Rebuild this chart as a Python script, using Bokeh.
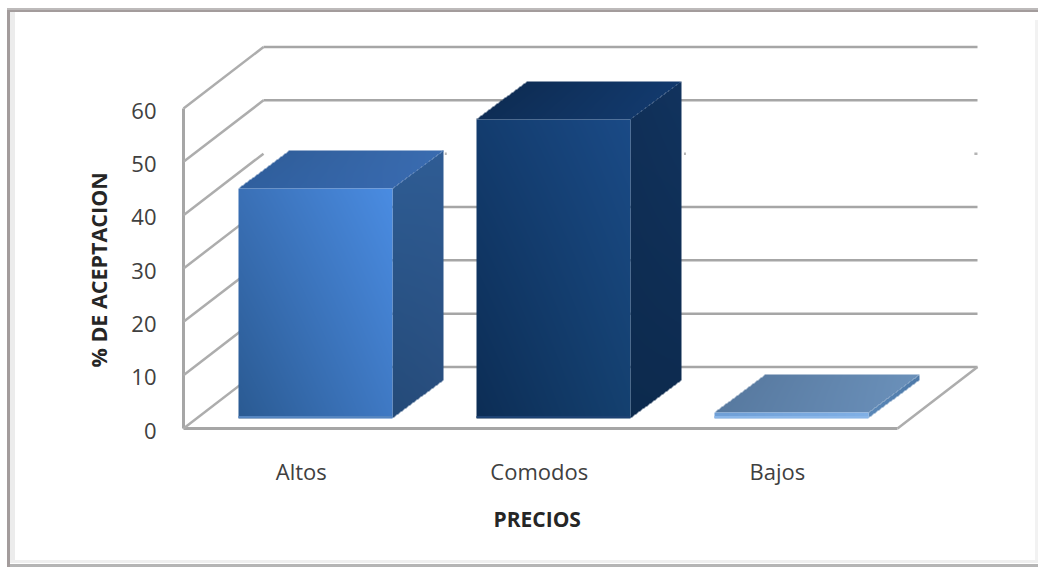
import numpy as np
from bokeh.embed import file_html
from bokeh.models import FixedTicker, Range1d, Title
from bokeh.plotting import figure
from bokeh.resources import INLINE

# Chart content
categories = ["Altos", "Comodos", "Bajos"]
values = [43.0, 56.0, 1.0]
y_ticks = [0, 10, 20, 30, 40, 50, 60]
x_title = "PRECIOS"
y_title = "% DE ACEPTACION"

# Per-bar shading: colours at bottom-left, bottom-right, top-right, top-left
front_colors = [
    ["#2a5a92", "#3f79c4", "#4a8ce2", "#3a70b6"],
    ["#0c2d55", "#14406f", "#1a4a86", "#133c6e"],
    ["#6f9fd6", "#80b0e6", "#80b0e6", "#6f9fd6"],
]
top_colors = [
    ["#2f5f9e", "#3768ad", "#3a6cb0", "#315f9c"],
    ["#0e2d55", "#12386a", "#123a6e", "#0e2d55"],
    ["#57799f", "#668bb5", "#6b91ba", "#5a7ca3"],
]
side_colors = [
    ["#244a78", "#294f80", "#2f5c94", "#2d5a90"],
    ["#0c2a4d", "#0d2b50", "#11335e", "#102f57"],
    ["#5b88b8", "#4d79a8", "#4d79a8", "#5b88b8"],
]
rim_colors = ["#5585c0", "#1d4273", "#8ab6e8"]

GRID = "#a6a6a6"
DIAGONAL = "#adadad"
TEXT = "#404040"

# Plot geometry: one category is 238 px wide, one value unit 5.333 px tall
PX_X = 1 / 238
PX_Y = 60 / 320
DEPTH_X = 80 * PX_X
DEPTH_Y = 61.5 * PX_Y
BAR_WIDTH = 154 * PX_X
BAR_GAP = 39 * PX_X
BAR_FLOOR_X = 16 * PX_X
BAR_FLOOR_Y = 10.5 * PX_Y
BAR_DEPTH_X = 51 * PX_X
BAR_DEPTH_Y = 38 * PX_Y
N_CATEGORIES = len(categories)
LABEL_DROP = 2 * PX_Y

# The chart object's frame sits behind the transparent canvas
frame_bands = [
    (7, 8, 1031, 2, "#bdbaba"),
    (7, 10, 1031, 2, "#a39c9c"),
    (7, 8, 3, 559, "#a39c9c"),
    (10, 12, 5, 548, "#ececec"),
    (7, 560, 1031, 3, "#efefef"),
    (7, 564, 1031, 3, "#b5b5b5"),
    (1035, 20, 3, 540, "#f2f2f2"),
]
frame_css = ", ".join(
    f"linear-gradient({c},{c}) {x}px {y}px / {w}px {h}px no-repeat"
    for x, y, w, h, c in frame_bands
)

p = figure(
    width=1038,
    height=567,
    x_range=Range1d(-2 * PX_X, 855 * PX_X),
    y_range=Range1d(-4 * PX_Y, 428 * PX_Y),
    min_border_left=181,
    min_border_right=0,
    min_border_top=0,
    min_border_bottom=135,
    output_backend="svg",
    toolbar_location=None,
    background_fill_color=None,
    border_fill_color=None,
    outline_line_color=None,
    styles={"background": frame_css + ", white"},
)
p.grid.visible = False


def hex_to_rgb(c):
    return np.array([int(c[i:i + 2], 16) for i in (1, 3, 5)], dtype=float)


def shaded_face(corners, colors):
    """Paint a parallelogram face, pixel by pixel, with a bilinear colour blend."""
    c = np.array(corners, dtype=float) / [PX_X, PX_Y]
    xmin, ymin = np.floor(c.min(axis=0))
    xmax, ymax = np.ceil(c.max(axis=0))
    nx, ny = int(xmax - xmin), int(ymax - ymin)
    gx, gy = np.meshgrid(xmin + np.arange(nx) + 0.5, ymin + np.arange(ny) + 0.5)
    # Face coordinates (u, v) of each pixel centre
    a, b = c[1] - c[0], c[3] - c[0]
    det = a[0] * b[1] - a[1] * b[0]
    rx, ry = gx - c[0, 0], gy - c[0, 1]
    u = (rx * b[1] - ry * b[0]) / det
    v = (a[0] * ry - a[1] * rx) / det
    inside = (u >= -0.001) & (u <= 1.001) & (v >= -0.001) & (v <= 1.001)
    u, v = u.clip(0, 1)[..., None], v.clip(0, 1)[..., None]
    col = [hex_to_rgb(k) for k in colors]
    rgb = col[0] * (1 - u) * (1 - v) + col[1] * u * (1 - v) + col[2] * u * v + col[3] * (1 - u) * v
    rgba = np.zeros((ny, nx, 4), dtype=np.uint8)
    rgba[..., :3] = rgb.round().astype(np.uint8)
    rgba[..., 3] = inside * 255
    img = rgba.view(dtype=np.uint32).reshape(ny, nx)
    p.image_rgba(image=[img], x=xmin * PX_X, y=ymin * PX_Y, dw=nx * PX_X, dh=ny * PX_Y)


# Axis lines
p.line([0, 0], [0, 60], line_color=GRID, line_width=3)
p.line([0, N_CATEGORIES], [0, 0], line_color=GRID, line_width=3)

# Side wall: slanted lines running from the axis back to the rear wall
for t in y_ticks:
    p.line([0, DEPTH_X], [t, t + DEPTH_Y], line_color=DIAGONAL, line_width=2.5)

# Rear wall gridlines; the 40 line only shows as small stubs around the bars
back_left = DEPTH_X
back_right = N_CATEGORIES + DEPTH_X
for t in y_ticks:
    if t != 40:
        p.line([back_left, back_right], [t + DEPTH_Y, t + DEPTH_Y], line_color=GRID, line_width=2.5)
for start, end in [(1.098, 1.106), (1.234, 1.242), (2.103, 2.111), (3.323, 3.336)]:
    p.line([start, end], [40 + DEPTH_Y, 40 + DEPTH_Y], line_color="#b4b4b4", line_width=2.5)

# Right edge of the floor
p.line([N_CATEGORIES, back_right], [0, DEPTH_Y], line_color=DIAGONAL, line_width=2.5)

# Bars: side and top faces first, the front face over them
for i, v in enumerate(values):
    x0 = i + BAR_GAP + BAR_FLOOR_X
    x1 = x0 + BAR_WIDTH
    y0 = BAR_FLOOR_Y
    y1 = v + BAR_FLOOR_Y
    dx, dy = BAR_DEPTH_X, BAR_DEPTH_Y
    shaded_face([(x1, y0), (x1 + dx, y0 + dy), (x1 + dx, y1 + dy), (x1, y1)], side_colors[i])
    shaded_face([(x0, y1), (x1, y1), (x1 + dx, y1 + dy), (x0 + dx, y1 + dy)], top_colors[i])
    shaded_face([(x0, y0), (x1, y0), (x1, y1), (x0, y1)], front_colors[i])
    p.line([x0, x1], [y0 + 0.2, y0 + 0.2], line_color=rim_colors[i], line_width=2)

# Axes: only their labels are drawn, the value labels a touch below their positions
p.xaxis.ticker = FixedTicker(ticks=[i + 0.495 for i in range(N_CATEGORIES)])
p.xaxis.major_label_overrides = {i + 0.495: c for i, c in enumerate(categories)}
p.xaxis.major_label_standoff = 23

label_ticks = [t - LABEL_DROP for t in y_ticks]
p.yaxis.ticker = FixedTicker(ticks=label_ticks)
p.yaxis.major_label_overrides = {lt: str(t) for lt, t in zip(label_ticks, y_ticks)}
p.yaxis.major_label_standoff = 25

for axis in (p.xaxis, p.yaxis):
    axis.axis_line_color = None
    axis.major_tick_line_color = None
    axis.minor_tick_line_color = None
    axis.major_tick_in = 0
    axis.major_tick_out = 0
    axis.major_label_text_font = "Open Sans"
    axis.major_label_text_font_size = "22px"
    axis.major_label_text_color = TEXT

# Axis titles, centred on the axes themselves rather than on the plot frame
title_style = dict(
    text_font="Open Sans",
    text_font_style="bold",
    text_color="#262626",
    align="left",
)
p.add_layout(Title(text=x_title, offset=312, standoff=28, text_font_size="21px", **title_style), "below")
p.add_layout(Title(text=y_title, offset=65, standoff=32, text_font_size="21.5px", **title_style), "left")

open("out.html", "w").write(file_html(p, INLINE))
